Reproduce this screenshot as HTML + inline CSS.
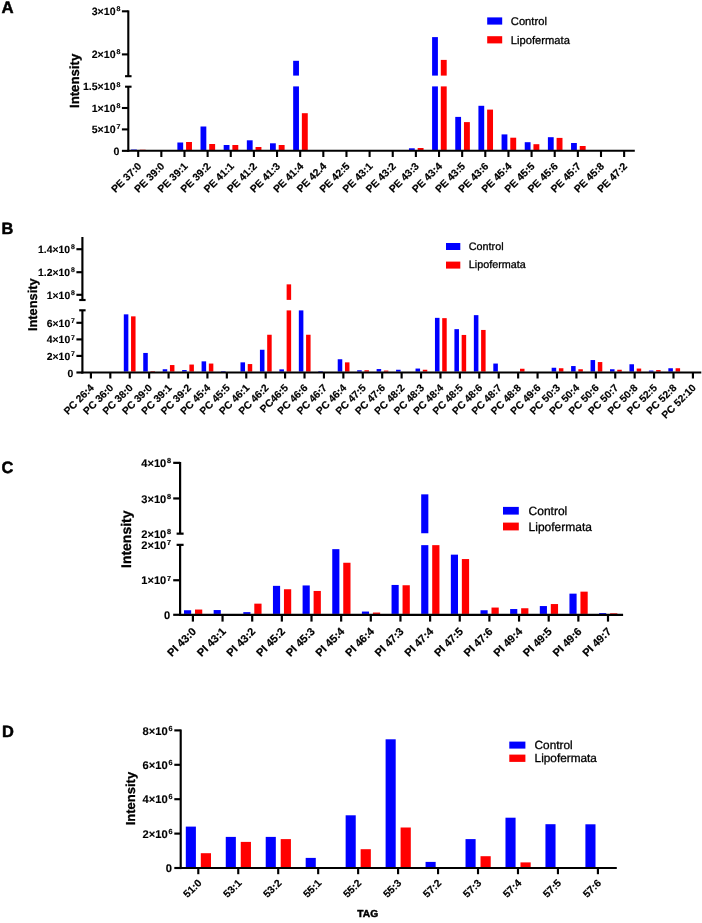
<!DOCTYPE html>
<html lang="en"><head><meta charset="utf-8"><title>Lipid intensity charts</title>
<style>html,body{margin:0;padding:0;background:#fff}svg{display:block;will-change:transform}text{font-family:'Liberation Sans', Arial, Helvetica, sans-serif;fill:#000;text-rendering:geometricPrecision;stroke:#000;stroke-width:.5px;stroke-linejoin:round}.n{stroke-width:.3px}.r{stroke-width:.18px}.t{stroke-width:.12px}.i{stroke-width:.3px}</style>
</head><body>
<svg width="702" height="923" viewBox="0 0 702 923">
<rect x="0" y="0" width="702" height="923" fill="#fff"/>
<g id="panel-A">
<g transform="translate(0 0)">
<rect x="131.05" y="149.5" width="5.8" height="0.45" fill="#0000ff"/>
<rect x="139.75" y="149.68" width="5.9" height="0.27" fill="#ff0000"/>
<rect x="177.37" y="142.5" width="5.8" height="7.45" fill="#0000ff"/>
<rect x="186.07" y="142" width="5.9" height="7.95" fill="#ff0000"/>
<rect x="200.52" y="126.5" width="5.8" height="23.45" fill="#0000ff"/>
<rect x="209.22" y="144" width="5.9" height="5.95" fill="#ff0000"/>
<rect x="223.68" y="145" width="5.8" height="4.95" fill="#0000ff"/>
<rect x="232.38" y="145" width="5.9" height="4.95" fill="#ff0000"/>
<rect x="246.84" y="140.3" width="5.8" height="9.65" fill="#0000ff"/>
<rect x="255.54" y="147" width="5.9" height="2.95" fill="#ff0000"/>
<rect x="270" y="143.3" width="5.8" height="6.65" fill="#0000ff"/>
<rect x="278.7" y="145" width="5.9" height="4.95" fill="#ff0000"/>
<rect x="293.16" y="60.8" width="5.8" height="14.8" fill="#0000ff"/>
<rect x="293.16" y="86.4" width="5.8" height="63.55" fill="#0000ff"/>
<rect x="301.86" y="113.2" width="5.9" height="36.75" fill="#ff0000"/>
<rect x="408.95" y="148.3" width="5.8" height="1.65" fill="#0000ff"/>
<rect x="417.65" y="148" width="5.9" height="1.95" fill="#ff0000"/>
<rect x="432.1" y="37.1" width="5.8" height="38.5" fill="#0000ff"/>
<rect x="432.1" y="86.4" width="5.8" height="63.55" fill="#0000ff"/>
<rect x="440.8" y="59.9" width="5.9" height="15.7" fill="#ff0000"/>
<rect x="440.8" y="86.4" width="5.9" height="63.55" fill="#ff0000"/>
<rect x="455.26" y="116.9" width="5.8" height="33.05" fill="#0000ff"/>
<rect x="463.96" y="122.1" width="5.9" height="27.85" fill="#ff0000"/>
<rect x="478.42" y="105.8" width="5.8" height="44.15" fill="#0000ff"/>
<rect x="487.12" y="109.6" width="5.9" height="40.35" fill="#ff0000"/>
<rect x="501.58" y="134.4" width="5.8" height="15.55" fill="#0000ff"/>
<rect x="510.28" y="137.7" width="5.9" height="12.25" fill="#ff0000"/>
<rect x="524.74" y="142.2" width="5.8" height="7.75" fill="#0000ff"/>
<rect x="533.44" y="144.2" width="5.9" height="5.75" fill="#ff0000"/>
<rect x="547.89" y="137.2" width="5.8" height="12.75" fill="#0000ff"/>
<rect x="556.59" y="137.9" width="5.9" height="12.05" fill="#ff0000"/>
<rect x="571.05" y="143" width="5.8" height="6.95" fill="#0000ff"/>
<rect x="579.75" y="146" width="5.9" height="3.95" fill="#ff0000"/>
<line x1="128.3" y1="10.4" x2="128.3" y2="76.2" stroke="#000" stroke-width="2.1"/>
<line x1="128.3" y1="86.7" x2="128.3" y2="151.85" stroke="#000" stroke-width="2.1"/>
<line x1="125.05" y1="76.2" x2="131.55" y2="76.2" stroke="#000" stroke-width="2.1"/>
<line x1="125.05" y1="86.7" x2="131.55" y2="86.7" stroke="#000" stroke-width="2.1"/>
<line x1="121.9" y1="11.3" x2="128.3" y2="11.3" stroke="#000" stroke-width="2.1"/>
<text x="120.3" y="15" font-size="10.6" font-weight="bold" text-anchor="end" class="t">3×10<tspan font-size="7" dy="-3.71" dx="0.8" class="r">8</tspan></text>
<line x1="121.9" y1="54.4" x2="128.3" y2="54.4" stroke="#000" stroke-width="2.1"/>
<text x="120.3" y="58.1" font-size="10.6" font-weight="bold" text-anchor="end" class="t">2×10<tspan font-size="7" dy="-3.71" dx="0.8" class="r">8</tspan></text>
<text x="120.3" y="90.4" font-size="10.6" font-weight="bold" text-anchor="end" class="t">1.5×10<tspan font-size="7" dy="-3.71" dx="0.8" class="r">8</tspan></text>
<line x1="121.9" y1="108" x2="128.3" y2="108" stroke="#000" stroke-width="2.1"/>
<text x="120.3" y="111.7" font-size="10.6" font-weight="bold" text-anchor="end" class="t">1×10<tspan font-size="7" dy="-3.71" dx="0.8" class="r">8</tspan></text>
<line x1="121.9" y1="129.4" x2="128.3" y2="129.4" stroke="#000" stroke-width="2.1"/>
<text x="120.3" y="133.1" font-size="10.6" font-weight="bold" text-anchor="end" class="t">5×10<tspan font-size="7" dy="-3.71" dx="0.8" class="r">7</tspan></text>
<line x1="121.9" y1="150.85" x2="128.3" y2="150.85" stroke="#000" stroke-width="2.1"/>
<text x="119.5" y="154.95" font-size="10.6" font-weight="bold" text-anchor="end" class="t">0</text>
<line x1="127.25" y1="150.8" x2="634.8" y2="150.8" stroke="#000" stroke-width="2.1"/>
<line x1="138.2" y1="150.8" x2="138.2" y2="157" stroke="#000" stroke-width="2.1"/>
<text x="0" y="0" transform="translate(142 166.8) rotate(-45)" font-size="10.4" font-weight="bold" text-anchor="end" class="r">PE 37:0</text>
<line x1="161.34" y1="150.8" x2="161.34" y2="157" stroke="#000" stroke-width="2.1"/>
<text x="0" y="0" transform="translate(165.14 166.8) rotate(-45)" font-size="10.4" font-weight="bold" text-anchor="end" class="r">PE 39:0</text>
<line x1="184.48" y1="150.8" x2="184.48" y2="157" stroke="#000" stroke-width="2.1"/>
<text x="0" y="0" transform="translate(188.28 166.8) rotate(-45)" font-size="10.4" font-weight="bold" text-anchor="end" class="r">PE 39:1</text>
<line x1="207.62" y1="150.8" x2="207.62" y2="157" stroke="#000" stroke-width="2.1"/>
<text x="0" y="0" transform="translate(211.42 166.8) rotate(-45)" font-size="10.4" font-weight="bold" text-anchor="end" class="r">PE 39:2</text>
<line x1="230.76" y1="150.8" x2="230.76" y2="157" stroke="#000" stroke-width="2.1"/>
<text x="0" y="0" transform="translate(234.56 166.8) rotate(-45)" font-size="10.4" font-weight="bold" text-anchor="end" class="r">PE 41:1</text>
<line x1="253.9" y1="150.8" x2="253.9" y2="157" stroke="#000" stroke-width="2.1"/>
<text x="0" y="0" transform="translate(257.7 166.8) rotate(-45)" font-size="10.4" font-weight="bold" text-anchor="end" class="r">PE 41:2</text>
<line x1="277.04" y1="150.8" x2="277.04" y2="157" stroke="#000" stroke-width="2.1"/>
<text x="0" y="0" transform="translate(280.84 166.8) rotate(-45)" font-size="10.4" font-weight="bold" text-anchor="end" class="r">PE 41:3</text>
<line x1="300.18" y1="150.8" x2="300.18" y2="157" stroke="#000" stroke-width="2.1"/>
<text x="0" y="0" transform="translate(303.98 166.8) rotate(-45)" font-size="10.4" font-weight="bold" text-anchor="end" class="r">PE 41:4</text>
<line x1="323.32" y1="150.8" x2="323.32" y2="157" stroke="#000" stroke-width="2.1"/>
<text x="0" y="0" transform="translate(327.12 166.8) rotate(-45)" font-size="10.4" font-weight="bold" text-anchor="end" class="r">PE 42.4</text>
<line x1="346.46" y1="150.8" x2="346.46" y2="157" stroke="#000" stroke-width="2.1"/>
<text x="0" y="0" transform="translate(350.26 166.8) rotate(-45)" font-size="10.4" font-weight="bold" text-anchor="end" class="r">PE 42:5</text>
<line x1="369.6" y1="150.8" x2="369.6" y2="157" stroke="#000" stroke-width="2.1"/>
<text x="0" y="0" transform="translate(373.4 166.8) rotate(-45)" font-size="10.4" font-weight="bold" text-anchor="end" class="r">PE 43:1</text>
<line x1="392.74" y1="150.8" x2="392.74" y2="157" stroke="#000" stroke-width="2.1"/>
<text x="0" y="0" transform="translate(396.54 166.8) rotate(-45)" font-size="10.4" font-weight="bold" text-anchor="end" class="r">PE 43:2</text>
<line x1="415.88" y1="150.8" x2="415.88" y2="157" stroke="#000" stroke-width="2.1"/>
<text x="0" y="0" transform="translate(419.68 166.8) rotate(-45)" font-size="10.4" font-weight="bold" text-anchor="end" class="r">PE 43:3</text>
<line x1="439.02" y1="150.8" x2="439.02" y2="157" stroke="#000" stroke-width="2.1"/>
<text x="0" y="0" transform="translate(442.82 166.8) rotate(-45)" font-size="10.4" font-weight="bold" text-anchor="end" class="r">PE 43:4</text>
<line x1="462.16" y1="150.8" x2="462.16" y2="157" stroke="#000" stroke-width="2.1"/>
<text x="0" y="0" transform="translate(465.96 166.8) rotate(-45)" font-size="10.4" font-weight="bold" text-anchor="end" class="r">PE 43:5</text>
<line x1="485.3" y1="150.8" x2="485.3" y2="157" stroke="#000" stroke-width="2.1"/>
<text x="0" y="0" transform="translate(489.1 166.8) rotate(-45)" font-size="10.4" font-weight="bold" text-anchor="end" class="r">PE 43:6</text>
<line x1="508.44" y1="150.8" x2="508.44" y2="157" stroke="#000" stroke-width="2.1"/>
<text x="0" y="0" transform="translate(512.24 166.8) rotate(-45)" font-size="10.4" font-weight="bold" text-anchor="end" class="r">PE 45:4</text>
<line x1="531.58" y1="150.8" x2="531.58" y2="157" stroke="#000" stroke-width="2.1"/>
<text x="0" y="0" transform="translate(535.38 166.8) rotate(-45)" font-size="10.4" font-weight="bold" text-anchor="end" class="r">PE 45:5</text>
<line x1="554.72" y1="150.8" x2="554.72" y2="157" stroke="#000" stroke-width="2.1"/>
<text x="0" y="0" transform="translate(558.52 166.8) rotate(-45)" font-size="10.4" font-weight="bold" text-anchor="end" class="r">PE 45:6</text>
<line x1="577.86" y1="150.8" x2="577.86" y2="157" stroke="#000" stroke-width="2.1"/>
<text x="0" y="0" transform="translate(581.66 166.8) rotate(-45)" font-size="10.4" font-weight="bold" text-anchor="end" class="r">PE 45:7</text>
<line x1="601" y1="150.8" x2="601" y2="157" stroke="#000" stroke-width="2.1"/>
<text x="0" y="0" transform="translate(604.8 166.8) rotate(-45)" font-size="10.4" font-weight="bold" text-anchor="end" class="r">PE 45:8</text>
<line x1="624.14" y1="150.8" x2="624.14" y2="157" stroke="#000" stroke-width="2.1"/>
<text x="0" y="0" transform="translate(627.94 166.8) rotate(-45)" font-size="10.4" font-weight="bold" text-anchor="end" class="r">PE 47:2</text>
<text x="0" y="0" transform="translate(78.7 80.9) rotate(-90)" font-size="13.2" font-weight="bold" text-anchor="middle" class="i">Intensity</text>
</g>
<rect x="487.2" y="17.4" width="15" height="7.2" fill="#0000ff"/>
<rect x="487.2" y="36.2" width="15" height="7.2" fill="#ff0000"/>
<text x="510.8" y="24.9" font-size="11.2" font-weight="normal" text-anchor="start" class="n">Control</text>
<text x="510.8" y="43.6" font-size="11.2" font-weight="normal" text-anchor="start" class="n">Lipofermata</text>
<text x="1.4" y="13" font-size="16.8" font-weight="bold" text-anchor="start">A</text>
</g>
<g id="panel-B">
<g transform="translate(0 0.3)">
<rect x="123.8" y="314.05" width="4.55" height="57.27" fill="#0000ff"/>
<rect x="131.05" y="316.05" width="4.5" height="55.27" fill="#ff0000"/>
<rect x="143.24" y="352.65" width="4.55" height="18.68" fill="#0000ff"/>
<rect x="150.49" y="370.75" width="4.5" height="0.57" fill="#ff0000"/>
<rect x="162.69" y="368.95" width="4.55" height="2.38" fill="#0000ff"/>
<rect x="169.94" y="364.75" width="4.5" height="6.57" fill="#ff0000"/>
<rect x="182.14" y="369.75" width="4.55" height="1.57" fill="#0000ff"/>
<rect x="189.39" y="364.25" width="4.5" height="7.07" fill="#ff0000"/>
<rect x="201.59" y="361.05" width="4.55" height="10.27" fill="#0000ff"/>
<rect x="208.84" y="363.25" width="4.5" height="8.07" fill="#ff0000"/>
<rect x="221.04" y="370.75" width="4.55" height="0.57" fill="#0000ff"/>
<rect x="240.48" y="362.05" width="4.55" height="9.27" fill="#0000ff"/>
<rect x="247.73" y="363.75" width="4.5" height="7.57" fill="#ff0000"/>
<rect x="259.93" y="349.45" width="4.55" height="21.88" fill="#0000ff"/>
<rect x="267.18" y="334.45" width="4.5" height="36.88" fill="#ff0000"/>
<rect x="279.38" y="369.05" width="4.55" height="2.27" fill="#0000ff"/>
<rect x="286.63" y="284.05" width="4.5" height="15.55" fill="#ff0000"/>
<rect x="286.63" y="310.1" width="4.5" height="61.22" fill="#ff0000"/>
<rect x="298.83" y="310.1" width="4.55" height="61.22" fill="#0000ff"/>
<rect x="306.08" y="334.45" width="4.5" height="36.88" fill="#ff0000"/>
<rect x="318.28" y="370.75" width="4.55" height="0.57" fill="#0000ff"/>
<rect x="337.72" y="358.95" width="4.55" height="12.38" fill="#0000ff"/>
<rect x="344.97" y="362.05" width="4.5" height="9.27" fill="#ff0000"/>
<rect x="357.17" y="369.95" width="4.55" height="1.38" fill="#0000ff"/>
<rect x="364.42" y="369.95" width="4.5" height="1.38" fill="#ff0000"/>
<rect x="376.62" y="368.75" width="4.55" height="2.57" fill="#0000ff"/>
<rect x="383.87" y="370.25" width="4.5" height="1.07" fill="#ff0000"/>
<rect x="396.07" y="369.45" width="4.55" height="1.88" fill="#0000ff"/>
<rect x="415.52" y="368.25" width="4.55" height="3.07" fill="#0000ff"/>
<rect x="422.77" y="369.45" width="4.5" height="1.88" fill="#ff0000"/>
<rect x="434.96" y="317.55" width="4.55" height="53.77" fill="#0000ff"/>
<rect x="442.21" y="317.85" width="4.5" height="53.47" fill="#ff0000"/>
<rect x="454.41" y="328.85" width="4.55" height="42.47" fill="#0000ff"/>
<rect x="461.66" y="334.65" width="4.5" height="36.68" fill="#ff0000"/>
<rect x="473.86" y="314.85" width="4.55" height="56.47" fill="#0000ff"/>
<rect x="481.11" y="329.65" width="4.5" height="41.68" fill="#ff0000"/>
<rect x="493.31" y="363.25" width="4.55" height="8.07" fill="#0000ff"/>
<rect x="520.01" y="368.45" width="4.5" height="2.88" fill="#ff0000"/>
<rect x="551.65" y="367.45" width="4.55" height="3.88" fill="#0000ff"/>
<rect x="558.9" y="367.95" width="4.5" height="3.38" fill="#ff0000"/>
<rect x="571.1" y="365.75" width="4.55" height="5.57" fill="#0000ff"/>
<rect x="578.35" y="368.95" width="4.5" height="2.38" fill="#ff0000"/>
<rect x="590.55" y="359.75" width="4.55" height="11.57" fill="#0000ff"/>
<rect x="597.8" y="361.75" width="4.5" height="9.57" fill="#ff0000"/>
<rect x="610" y="368.95" width="4.55" height="2.38" fill="#0000ff"/>
<rect x="617.25" y="369.45" width="4.5" height="1.88" fill="#ff0000"/>
<rect x="629.44" y="363.95" width="4.55" height="7.38" fill="#0000ff"/>
<rect x="636.69" y="368.25" width="4.5" height="3.07" fill="#ff0000"/>
<rect x="648.89" y="370.25" width="4.55" height="1.07" fill="#0000ff"/>
<rect x="656.14" y="369.75" width="4.5" height="1.57" fill="#ff0000"/>
<rect x="668.34" y="367.95" width="4.55" height="3.38" fill="#0000ff"/>
<rect x="675.59" y="367.95" width="4.5" height="3.38" fill="#ff0000"/>
<line x1="82.4" y1="236.7" x2="82.4" y2="299.7" stroke="#000" stroke-width="2.15"/>
<line x1="82.4" y1="310" x2="82.4" y2="373.27" stroke="#000" stroke-width="2.15"/>
<line x1="79.2" y1="299.7" x2="85.6" y2="299.7" stroke="#000" stroke-width="2.15"/>
<line x1="79.2" y1="310" x2="85.6" y2="310" stroke="#000" stroke-width="2.15"/>
<line x1="76.4" y1="248.9" x2="82.4" y2="248.9" stroke="#000" stroke-width="2.15"/>
<text x="74.8" y="252.75" font-size="10.4" font-weight="bold" text-anchor="end" class="t">1.4×10<tspan font-size="6.9" dy="-3.64" dx="0.8" class="r">8</tspan></text>
<line x1="76.4" y1="271.9" x2="82.4" y2="271.9" stroke="#000" stroke-width="2.15"/>
<text x="74.8" y="275.75" font-size="10.4" font-weight="bold" text-anchor="end" class="t">1.2×10<tspan font-size="6.9" dy="-3.64" dx="0.8" class="r">8</tspan></text>
<line x1="76.4" y1="294.5" x2="82.4" y2="294.5" stroke="#000" stroke-width="2.15"/>
<text x="74.8" y="298.35" font-size="10.4" font-weight="bold" text-anchor="end" class="t">1×10<tspan font-size="6.9" dy="-3.64" dx="0.8" class="r">8</tspan></text>
<line x1="76.4" y1="322.5" x2="82.4" y2="322.5" stroke="#000" stroke-width="2.15"/>
<text x="74.8" y="326.35" font-size="10.4" font-weight="bold" text-anchor="end" class="t">6×10<tspan font-size="6.9" dy="-3.64" dx="0.8" class="r">7</tspan></text>
<line x1="76.4" y1="339.1" x2="82.4" y2="339.1" stroke="#000" stroke-width="2.15"/>
<text x="74.8" y="342.95" font-size="10.4" font-weight="bold" text-anchor="end" class="t">4×10<tspan font-size="6.9" dy="-3.64" dx="0.8" class="r">7</tspan></text>
<line x1="76.4" y1="355.6" x2="82.4" y2="355.6" stroke="#000" stroke-width="2.15"/>
<text x="74.8" y="359.45" font-size="10.4" font-weight="bold" text-anchor="end" class="t">2×10<tspan font-size="6.9" dy="-3.64" dx="0.8" class="r">7</tspan></text>
<line x1="76.4" y1="372.2" x2="82.4" y2="372.2" stroke="#000" stroke-width="2.15"/>
<text x="73.3" y="376.25" font-size="10.4" font-weight="bold" text-anchor="end" class="t">0</text>
<line x1="81.33" y1="372.2" x2="701.3" y2="372.2" stroke="#000" stroke-width="2.15"/>
<line x1="90.9" y1="372.2" x2="90.9" y2="378.2" stroke="#000" stroke-width="2.15"/>
<text x="0" y="0" transform="translate(94.6 388.2) rotate(-45)" font-size="10.3" font-weight="bold" text-anchor="end" class="r">PC 26:4</text>
<line x1="110.32" y1="372.2" x2="110.32" y2="378.2" stroke="#000" stroke-width="2.15"/>
<text x="0" y="0" transform="translate(114.02 388.2) rotate(-45)" font-size="10.3" font-weight="bold" text-anchor="end" class="r">PC 36:0</text>
<line x1="129.74" y1="372.2" x2="129.74" y2="378.2" stroke="#000" stroke-width="2.15"/>
<text x="0" y="0" transform="translate(133.44 388.2) rotate(-45)" font-size="10.3" font-weight="bold" text-anchor="end" class="r">PC 38:0</text>
<line x1="149.16" y1="372.2" x2="149.16" y2="378.2" stroke="#000" stroke-width="2.15"/>
<text x="0" y="0" transform="translate(152.86 388.2) rotate(-45)" font-size="10.3" font-weight="bold" text-anchor="end" class="r">PC 39:0</text>
<line x1="168.58" y1="372.2" x2="168.58" y2="378.2" stroke="#000" stroke-width="2.15"/>
<text x="0" y="0" transform="translate(172.28 388.2) rotate(-45)" font-size="10.3" font-weight="bold" text-anchor="end" class="r">PC 39:1</text>
<line x1="188" y1="372.2" x2="188" y2="378.2" stroke="#000" stroke-width="2.15"/>
<text x="0" y="0" transform="translate(191.7 388.2) rotate(-45)" font-size="10.3" font-weight="bold" text-anchor="end" class="r">PC 39:2</text>
<line x1="207.42" y1="372.2" x2="207.42" y2="378.2" stroke="#000" stroke-width="2.15"/>
<text x="0" y="0" transform="translate(211.12 388.2) rotate(-45)" font-size="10.3" font-weight="bold" text-anchor="end" class="r">PC 45:4</text>
<line x1="226.84" y1="372.2" x2="226.84" y2="378.2" stroke="#000" stroke-width="2.15"/>
<text x="0" y="0" transform="translate(230.54 388.2) rotate(-45)" font-size="10.3" font-weight="bold" text-anchor="end" class="r">PC 45:5</text>
<line x1="246.26" y1="372.2" x2="246.26" y2="378.2" stroke="#000" stroke-width="2.15"/>
<text x="0" y="0" transform="translate(249.96 388.2) rotate(-45)" font-size="10.3" font-weight="bold" text-anchor="end" class="r">PC 46:1</text>
<line x1="265.68" y1="372.2" x2="265.68" y2="378.2" stroke="#000" stroke-width="2.15"/>
<text x="0" y="0" transform="translate(269.38 388.2) rotate(-45)" font-size="10.3" font-weight="bold" text-anchor="end" class="r">PC 46:2</text>
<line x1="285.1" y1="372.2" x2="285.1" y2="378.2" stroke="#000" stroke-width="2.15"/>
<text x="0" y="0" transform="translate(288.8 388.2) rotate(-45)" font-size="10.3" font-weight="bold" text-anchor="end" class="r">PC46:5</text>
<line x1="304.52" y1="372.2" x2="304.52" y2="378.2" stroke="#000" stroke-width="2.15"/>
<text x="0" y="0" transform="translate(308.22 388.2) rotate(-45)" font-size="10.3" font-weight="bold" text-anchor="end" class="r">PC 46:6</text>
<line x1="323.94" y1="372.2" x2="323.94" y2="378.2" stroke="#000" stroke-width="2.15"/>
<text x="0" y="0" transform="translate(327.64 388.2) rotate(-45)" font-size="10.3" font-weight="bold" text-anchor="end" class="r">PC 46:7</text>
<line x1="343.36" y1="372.2" x2="343.36" y2="378.2" stroke="#000" stroke-width="2.15"/>
<text x="0" y="0" transform="translate(347.06 388.2) rotate(-45)" font-size="10.3" font-weight="bold" text-anchor="end" class="r">PC 46:4</text>
<line x1="362.78" y1="372.2" x2="362.78" y2="378.2" stroke="#000" stroke-width="2.15"/>
<text x="0" y="0" transform="translate(366.48 388.2) rotate(-45)" font-size="10.3" font-weight="bold" text-anchor="end" class="r">PC 47:5</text>
<line x1="382.2" y1="372.2" x2="382.2" y2="378.2" stroke="#000" stroke-width="2.15"/>
<text x="0" y="0" transform="translate(385.9 388.2) rotate(-45)" font-size="10.3" font-weight="bold" text-anchor="end" class="r">PC 47:6</text>
<line x1="401.62" y1="372.2" x2="401.62" y2="378.2" stroke="#000" stroke-width="2.15"/>
<text x="0" y="0" transform="translate(405.32 388.2) rotate(-45)" font-size="10.3" font-weight="bold" text-anchor="end" class="r">PC 48:2</text>
<line x1="421.04" y1="372.2" x2="421.04" y2="378.2" stroke="#000" stroke-width="2.15"/>
<text x="0" y="0" transform="translate(424.74 388.2) rotate(-45)" font-size="10.3" font-weight="bold" text-anchor="end" class="r">PC 48:3</text>
<line x1="440.46" y1="372.2" x2="440.46" y2="378.2" stroke="#000" stroke-width="2.15"/>
<text x="0" y="0" transform="translate(444.16 388.2) rotate(-45)" font-size="10.3" font-weight="bold" text-anchor="end" class="r">PC 48:4</text>
<line x1="459.88" y1="372.2" x2="459.88" y2="378.2" stroke="#000" stroke-width="2.15"/>
<text x="0" y="0" transform="translate(463.58 388.2) rotate(-45)" font-size="10.3" font-weight="bold" text-anchor="end" class="r">PC 48:5</text>
<line x1="479.3" y1="372.2" x2="479.3" y2="378.2" stroke="#000" stroke-width="2.15"/>
<text x="0" y="0" transform="translate(483 388.2) rotate(-45)" font-size="10.3" font-weight="bold" text-anchor="end" class="r">PC 48:6</text>
<line x1="498.72" y1="372.2" x2="498.72" y2="378.2" stroke="#000" stroke-width="2.15"/>
<text x="0" y="0" transform="translate(502.42 388.2) rotate(-45)" font-size="10.3" font-weight="bold" text-anchor="end" class="r">PC 48:7</text>
<line x1="518.14" y1="372.2" x2="518.14" y2="378.2" stroke="#000" stroke-width="2.15"/>
<text x="0" y="0" transform="translate(521.84 388.2) rotate(-45)" font-size="10.3" font-weight="bold" text-anchor="end" class="r">PC 48:8</text>
<line x1="537.56" y1="372.2" x2="537.56" y2="378.2" stroke="#000" stroke-width="2.15"/>
<text x="0" y="0" transform="translate(541.26 388.2) rotate(-45)" font-size="10.3" font-weight="bold" text-anchor="end" class="r">PC 49:6</text>
<line x1="556.98" y1="372.2" x2="556.98" y2="378.2" stroke="#000" stroke-width="2.15"/>
<text x="0" y="0" transform="translate(560.68 388.2) rotate(-45)" font-size="10.3" font-weight="bold" text-anchor="end" class="r">PC 50:3</text>
<line x1="576.4" y1="372.2" x2="576.4" y2="378.2" stroke="#000" stroke-width="2.15"/>
<text x="0" y="0" transform="translate(580.1 388.2) rotate(-45)" font-size="10.3" font-weight="bold" text-anchor="end" class="r">PC 50:4</text>
<line x1="595.82" y1="372.2" x2="595.82" y2="378.2" stroke="#000" stroke-width="2.15"/>
<text x="0" y="0" transform="translate(599.52 388.2) rotate(-45)" font-size="10.3" font-weight="bold" text-anchor="end" class="r">PC 50:6</text>
<line x1="615.24" y1="372.2" x2="615.24" y2="378.2" stroke="#000" stroke-width="2.15"/>
<text x="0" y="0" transform="translate(618.94 388.2) rotate(-45)" font-size="10.3" font-weight="bold" text-anchor="end" class="r">PC 50:7</text>
<line x1="634.66" y1="372.2" x2="634.66" y2="378.2" stroke="#000" stroke-width="2.15"/>
<text x="0" y="0" transform="translate(638.36 388.2) rotate(-45)" font-size="10.3" font-weight="bold" text-anchor="end" class="r">PC 50:8</text>
<line x1="654.08" y1="372.2" x2="654.08" y2="378.2" stroke="#000" stroke-width="2.15"/>
<text x="0" y="0" transform="translate(657.78 388.2) rotate(-45)" font-size="10.3" font-weight="bold" text-anchor="end" class="r">PC 52:5</text>
<line x1="673.5" y1="372.2" x2="673.5" y2="378.2" stroke="#000" stroke-width="2.15"/>
<text x="0" y="0" transform="translate(677.2 388.2) rotate(-45)" font-size="10.3" font-weight="bold" text-anchor="end" class="r">PC 52:8</text>
<line x1="692.92" y1="372.2" x2="692.92" y2="378.2" stroke="#000" stroke-width="2.15"/>
<text x="0" y="0" transform="translate(696.62 388.2) rotate(-45)" font-size="10.3" font-weight="bold" text-anchor="end" class="r">PC 52:10</text>
<text x="0" y="0" transform="translate(36.5 304.4) rotate(-90)" font-size="12.8" font-weight="bold" text-anchor="middle" class="i">Intensity</text>
</g>
<rect x="446" y="243" width="14.3" height="7" fill="#0000ff"/>
<rect x="446" y="261.6" width="14.3" height="7" fill="#ff0000"/>
<text x="468.8" y="250.1" font-size="10.8" font-weight="normal" text-anchor="start" class="n">Control</text>
<text x="468.8" y="268.4" font-size="10.8" font-weight="normal" text-anchor="start" class="n">Lipofermata</text>
<text x="1.6" y="233.8" font-size="16.4" font-weight="bold" text-anchor="start">B</text>
</g>
<g id="panel-C">
<g transform="translate(0 0.35)">
<rect x="184" y="609.9" width="7.15" height="3.65" fill="#0000ff"/>
<rect x="195" y="609.2" width="7.25" height="4.35" fill="#ff0000"/>
<rect x="213.65" y="609.7" width="7.15" height="3.85" fill="#0000ff"/>
<rect x="243.3" y="611.8" width="7.15" height="1.75" fill="#0000ff"/>
<rect x="254.3" y="603.3" width="7.25" height="10.25" fill="#ff0000"/>
<rect x="272.95" y="585.5" width="7.15" height="28.05" fill="#0000ff"/>
<rect x="283.95" y="588.9" width="7.25" height="24.65" fill="#ff0000"/>
<rect x="302.6" y="585.1" width="7.15" height="28.45" fill="#0000ff"/>
<rect x="313.6" y="590.6" width="7.25" height="22.95" fill="#ff0000"/>
<rect x="332.25" y="548.8" width="7.15" height="64.75" fill="#0000ff"/>
<rect x="343.25" y="562.4" width="7.25" height="51.15" fill="#ff0000"/>
<rect x="361.9" y="611.2" width="7.15" height="2.35" fill="#0000ff"/>
<rect x="372.9" y="612.2" width="7.25" height="1.35" fill="#ff0000"/>
<rect x="391.55" y="584.6" width="7.15" height="28.95" fill="#0000ff"/>
<rect x="402.55" y="584.9" width="7.25" height="28.65" fill="#ff0000"/>
<rect x="421.2" y="494" width="7.15" height="38.9" fill="#0000ff"/>
<rect x="421.2" y="544.8" width="7.15" height="68.75" fill="#0000ff"/>
<rect x="432.2" y="544.8" width="7.25" height="68.75" fill="#ff0000"/>
<rect x="450.85" y="554.3" width="7.15" height="59.25" fill="#0000ff"/>
<rect x="461.85" y="558.7" width="7.25" height="54.85" fill="#ff0000"/>
<rect x="480.5" y="609.9" width="7.15" height="3.65" fill="#0000ff"/>
<rect x="491.5" y="607.2" width="7.25" height="6.35" fill="#ff0000"/>
<rect x="510.15" y="608.7" width="7.15" height="4.85" fill="#0000ff"/>
<rect x="521.15" y="607.9" width="7.25" height="5.65" fill="#ff0000"/>
<rect x="539.8" y="605.7" width="7.15" height="7.85" fill="#0000ff"/>
<rect x="550.8" y="603.7" width="7.25" height="9.85" fill="#ff0000"/>
<rect x="569.45" y="593.3" width="7.15" height="20.25" fill="#0000ff"/>
<rect x="580.45" y="591.3" width="7.25" height="22.25" fill="#ff0000"/>
<rect x="599.1" y="612.7" width="7.15" height="0.85" fill="#0000ff"/>
<rect x="610.1" y="612.9" width="7.25" height="0.65" fill="#ff0000"/>
<line x1="180.1" y1="461.6" x2="180.1" y2="533.3" stroke="#000" stroke-width="2.2"/>
<line x1="180.1" y1="544.5" x2="180.1" y2="615.55" stroke="#000" stroke-width="2.2"/>
<line x1="176.6" y1="533.3" x2="183.6" y2="533.3" stroke="#000" stroke-width="2.2"/>
<line x1="176.6" y1="544.5" x2="183.6" y2="544.5" stroke="#000" stroke-width="2.2"/>
<line x1="173.2" y1="462.5" x2="180.1" y2="462.5" stroke="#000" stroke-width="2.2"/>
<text x="171.1" y="466.7" font-size="11.1" font-weight="bold" text-anchor="end" class="t">4×10<tspan font-size="7.3" dy="-3.88" dx="0.8" class="r">8</tspan></text>
<line x1="173.2" y1="498.1" x2="180.1" y2="498.1" stroke="#000" stroke-width="2.2"/>
<text x="171.1" y="502.3" font-size="11.1" font-weight="bold" text-anchor="end" class="t">3×10<tspan font-size="7.3" dy="-3.88" dx="0.8" class="r">8</tspan></text>
<text x="171.1" y="537.5" font-size="11.1" font-weight="bold" text-anchor="end" class="t">2×10<tspan font-size="7.3" dy="-3.88" dx="0.8" class="r">8</tspan></text>
<text x="171.1" y="548.7" font-size="11.1" font-weight="bold" text-anchor="end" class="t">2×10<tspan font-size="7.3" dy="-3.88" dx="0.8" class="r">7</tspan></text>
<line x1="173.2" y1="579.9" x2="180.1" y2="579.9" stroke="#000" stroke-width="2.2"/>
<text x="171.1" y="584.1" font-size="11.1" font-weight="bold" text-anchor="end" class="t">1×10<tspan font-size="7.3" dy="-3.88" dx="0.8" class="r">7</tspan></text>
<line x1="173.2" y1="614.45" x2="180.1" y2="614.45" stroke="#000" stroke-width="2.2"/>
<text x="170.1" y="618.65" font-size="11.1" font-weight="bold" text-anchor="end" class="t">0</text>
<line x1="179" y1="614.45" x2="623.1" y2="614.45" stroke="#000" stroke-width="2.2"/>
<line x1="192.9" y1="614.45" x2="192.9" y2="621.25" stroke="#000" stroke-width="2.2"/>
<text x="0" y="0" transform="translate(196.9 631.85) rotate(-45)" font-size="11" font-weight="bold" text-anchor="end" class="r">PI 43:0</text>
<line x1="222.55" y1="614.45" x2="222.55" y2="621.25" stroke="#000" stroke-width="2.2"/>
<text x="0" y="0" transform="translate(226.55 631.85) rotate(-45)" font-size="11" font-weight="bold" text-anchor="end" class="r">PI 43:1</text>
<line x1="252.2" y1="614.45" x2="252.2" y2="621.25" stroke="#000" stroke-width="2.2"/>
<text x="0" y="0" transform="translate(256.2 631.85) rotate(-45)" font-size="11" font-weight="bold" text-anchor="end" class="r">PI 43:2</text>
<line x1="281.85" y1="614.45" x2="281.85" y2="621.25" stroke="#000" stroke-width="2.2"/>
<text x="0" y="0" transform="translate(285.85 631.85) rotate(-45)" font-size="11" font-weight="bold" text-anchor="end" class="r">PI 45:2</text>
<line x1="311.5" y1="614.45" x2="311.5" y2="621.25" stroke="#000" stroke-width="2.2"/>
<text x="0" y="0" transform="translate(315.5 631.85) rotate(-45)" font-size="11" font-weight="bold" text-anchor="end" class="r">PI 45:3</text>
<line x1="341.15" y1="614.45" x2="341.15" y2="621.25" stroke="#000" stroke-width="2.2"/>
<text x="0" y="0" transform="translate(345.15 631.85) rotate(-45)" font-size="11" font-weight="bold" text-anchor="end" class="r">PI 45:4</text>
<line x1="370.8" y1="614.45" x2="370.8" y2="621.25" stroke="#000" stroke-width="2.2"/>
<text x="0" y="0" transform="translate(374.8 631.85) rotate(-45)" font-size="11" font-weight="bold" text-anchor="end" class="r">PI 46:4</text>
<line x1="400.45" y1="614.45" x2="400.45" y2="621.25" stroke="#000" stroke-width="2.2"/>
<text x="0" y="0" transform="translate(404.45 631.85) rotate(-45)" font-size="11" font-weight="bold" text-anchor="end" class="r">PI 47:3</text>
<line x1="430.1" y1="614.45" x2="430.1" y2="621.25" stroke="#000" stroke-width="2.2"/>
<text x="0" y="0" transform="translate(434.1 631.85) rotate(-45)" font-size="11" font-weight="bold" text-anchor="end" class="r">PI 47:4</text>
<line x1="459.75" y1="614.45" x2="459.75" y2="621.25" stroke="#000" stroke-width="2.2"/>
<text x="0" y="0" transform="translate(463.75 631.85) rotate(-45)" font-size="11" font-weight="bold" text-anchor="end" class="r">PI 47:5</text>
<line x1="489.4" y1="614.45" x2="489.4" y2="621.25" stroke="#000" stroke-width="2.2"/>
<text x="0" y="0" transform="translate(493.4 631.85) rotate(-45)" font-size="11" font-weight="bold" text-anchor="end" class="r">PI 47:6</text>
<line x1="519.05" y1="614.45" x2="519.05" y2="621.25" stroke="#000" stroke-width="2.2"/>
<text x="0" y="0" transform="translate(523.05 631.85) rotate(-45)" font-size="11" font-weight="bold" text-anchor="end" class="r">PI 49:4</text>
<line x1="548.7" y1="614.45" x2="548.7" y2="621.25" stroke="#000" stroke-width="2.2"/>
<text x="0" y="0" transform="translate(552.7 631.85) rotate(-45)" font-size="11" font-weight="bold" text-anchor="end" class="r">PI 49:5</text>
<line x1="578.35" y1="614.45" x2="578.35" y2="621.25" stroke="#000" stroke-width="2.2"/>
<text x="0" y="0" transform="translate(582.35 631.85) rotate(-45)" font-size="11" font-weight="bold" text-anchor="end" class="r">PI 49:6</text>
<line x1="608" y1="614.45" x2="608" y2="621.25" stroke="#000" stroke-width="2.2"/>
<text x="0" y="0" transform="translate(612 631.85) rotate(-45)" font-size="11" font-weight="bold" text-anchor="end" class="r">PI 49:7</text>
<text x="0" y="0" transform="translate(131.1 538.9) rotate(-90)" font-size="13.95" font-weight="bold" text-anchor="middle" class="i">Intensity</text>
</g>
<rect x="503" y="506.9" width="15.8" height="7.7" fill="#0000ff"/>
<rect x="503" y="522.6" width="15.8" height="7.8" fill="#ff0000"/>
<text x="528.6" y="514.8" font-size="12" font-weight="normal" text-anchor="start" class="n">Control</text>
<text x="528.6" y="530.6" font-size="12" font-weight="normal" text-anchor="start" class="n">Lipofermata</text>
<text x="1.6" y="473.2" font-size="16.4" font-weight="bold" text-anchor="start">C</text>
</g>
<g id="panel-D">
<g transform="translate(0 0)">
<rect x="185.8" y="826.6" width="10.1" height="40.52" fill="#0000ff"/>
<rect x="200.8" y="853.2" width="10.2" height="13.92" fill="#ff0000"/>
<rect x="225.76" y="836.9" width="10.1" height="30.23" fill="#0000ff"/>
<rect x="240.76" y="841.9" width="10.2" height="25.23" fill="#ff0000"/>
<rect x="265.72" y="836.9" width="10.1" height="30.23" fill="#0000ff"/>
<rect x="280.72" y="839.1" width="10.2" height="28.02" fill="#ff0000"/>
<rect x="305.68" y="857.9" width="10.1" height="9.23" fill="#0000ff"/>
<rect x="345.64" y="815.3" width="10.1" height="51.83" fill="#0000ff"/>
<rect x="360.64" y="849.2" width="10.2" height="17.92" fill="#ff0000"/>
<rect x="385.6" y="739.3" width="10.1" height="127.83" fill="#0000ff"/>
<rect x="400.6" y="827.5" width="10.2" height="39.62" fill="#ff0000"/>
<rect x="425.56" y="861.9" width="10.1" height="5.23" fill="#0000ff"/>
<rect x="465.52" y="839.1" width="10.1" height="28.02" fill="#0000ff"/>
<rect x="480.52" y="856.2" width="10.2" height="10.92" fill="#ff0000"/>
<rect x="505.48" y="817.7" width="10.1" height="49.42" fill="#0000ff"/>
<rect x="520.48" y="862.4" width="10.2" height="4.73" fill="#ff0000"/>
<rect x="545.44" y="824.2" width="10.1" height="42.92" fill="#0000ff"/>
<rect x="585.4" y="824.3" width="10.1" height="42.83" fill="#0000ff"/>
<line x1="180.7" y1="729.5" x2="180.7" y2="869.08" stroke="#000" stroke-width="2.15"/>
<line x1="174.3" y1="730.4" x2="180.7" y2="730.4" stroke="#000" stroke-width="2.15"/>
<text x="172.5" y="734.55" font-size="11.2" font-weight="bold" text-anchor="end" class="t">8×10<tspan font-size="7.3" dy="-3.92" dx="0.8" class="r">6</tspan></text>
<line x1="174.3" y1="764.8" x2="180.7" y2="764.8" stroke="#000" stroke-width="2.15"/>
<text x="172.5" y="768.95" font-size="11.2" font-weight="bold" text-anchor="end" class="t">6×10<tspan font-size="7.3" dy="-3.92" dx="0.8" class="r">6</tspan></text>
<line x1="174.3" y1="799.2" x2="180.7" y2="799.2" stroke="#000" stroke-width="2.15"/>
<text x="172.5" y="803.35" font-size="11.2" font-weight="bold" text-anchor="end" class="t">4×10<tspan font-size="7.3" dy="-3.92" dx="0.8" class="r">6</tspan></text>
<line x1="174.3" y1="833.6" x2="180.7" y2="833.6" stroke="#000" stroke-width="2.15"/>
<text x="172.5" y="837.75" font-size="11.2" font-weight="bold" text-anchor="end" class="t">2×10<tspan font-size="7.3" dy="-3.92" dx="0.8" class="r">6</tspan></text>
<line x1="174.3" y1="868" x2="180.7" y2="868" stroke="#000" stroke-width="2.15"/>
<text x="172" y="872.35" font-size="11.2" font-weight="bold" text-anchor="end" class="t">0</text>
<line x1="179.62" y1="868" x2="616.8" y2="868" stroke="#000" stroke-width="2.15"/>
<line x1="198.3" y1="868" x2="198.3" y2="874.2" stroke="#000" stroke-width="2.15"/>
<text x="0" y="0" transform="translate(202.3 883.6) rotate(-45)" font-size="10.4" font-weight="bold" text-anchor="end" class="r">51:0</text>
<line x1="238.26" y1="868" x2="238.26" y2="874.2" stroke="#000" stroke-width="2.15"/>
<text x="0" y="0" transform="translate(242.26 883.6) rotate(-45)" font-size="10.4" font-weight="bold" text-anchor="end" class="r">53:1</text>
<line x1="278.22" y1="868" x2="278.22" y2="874.2" stroke="#000" stroke-width="2.15"/>
<text x="0" y="0" transform="translate(282.22 883.6) rotate(-45)" font-size="10.4" font-weight="bold" text-anchor="end" class="r">53:2</text>
<line x1="318.18" y1="868" x2="318.18" y2="874.2" stroke="#000" stroke-width="2.15"/>
<text x="0" y="0" transform="translate(322.18 883.6) rotate(-45)" font-size="10.4" font-weight="bold" text-anchor="end" class="r">55:1</text>
<line x1="358.14" y1="868" x2="358.14" y2="874.2" stroke="#000" stroke-width="2.15"/>
<text x="0" y="0" transform="translate(362.14 883.6) rotate(-45)" font-size="10.4" font-weight="bold" text-anchor="end" class="r">55:2</text>
<line x1="398.1" y1="868" x2="398.1" y2="874.2" stroke="#000" stroke-width="2.15"/>
<text x="0" y="0" transform="translate(402.1 883.6) rotate(-45)" font-size="10.4" font-weight="bold" text-anchor="end" class="r">55:3</text>
<line x1="438.06" y1="868" x2="438.06" y2="874.2" stroke="#000" stroke-width="2.15"/>
<text x="0" y="0" transform="translate(442.06 883.6) rotate(-45)" font-size="10.4" font-weight="bold" text-anchor="end" class="r">57:2</text>
<line x1="478.02" y1="868" x2="478.02" y2="874.2" stroke="#000" stroke-width="2.15"/>
<text x="0" y="0" transform="translate(482.02 883.6) rotate(-45)" font-size="10.4" font-weight="bold" text-anchor="end" class="r">57:3</text>
<line x1="517.98" y1="868" x2="517.98" y2="874.2" stroke="#000" stroke-width="2.15"/>
<text x="0" y="0" transform="translate(521.98 883.6) rotate(-45)" font-size="10.4" font-weight="bold" text-anchor="end" class="r">57:4</text>
<line x1="557.94" y1="868" x2="557.94" y2="874.2" stroke="#000" stroke-width="2.15"/>
<text x="0" y="0" transform="translate(561.94 883.6) rotate(-45)" font-size="10.4" font-weight="bold" text-anchor="end" class="r">57:5</text>
<line x1="597.9" y1="868" x2="597.9" y2="874.2" stroke="#000" stroke-width="2.15"/>
<text x="0" y="0" transform="translate(601.9 883.6) rotate(-45)" font-size="10.4" font-weight="bold" text-anchor="end" class="r">57:6</text>
<text x="0" y="0" transform="translate(134.6 798.6) rotate(-90)" font-size="13" font-weight="bold" text-anchor="middle" class="i">Intensity</text>
</g>
<rect x="509.3" y="741.6" width="16.1" height="7" fill="#0000ff"/>
<rect x="509.3" y="754.6" width="16.1" height="7.3" fill="#ff0000"/>
<text x="534.6" y="749.1" font-size="11.8" font-weight="normal" text-anchor="start" class="n">Control</text>
<text x="534.6" y="762.1" font-size="11.8" font-weight="normal" text-anchor="start" class="n">Lipofermata</text>
<text x="2" y="737.3" font-size="16.4" font-weight="bold" text-anchor="start">D</text>
</g>
<text x="367.7" y="917.4" font-size="10.2" font-weight="bold" text-anchor="middle">TAG</text>
</svg></body></html>
